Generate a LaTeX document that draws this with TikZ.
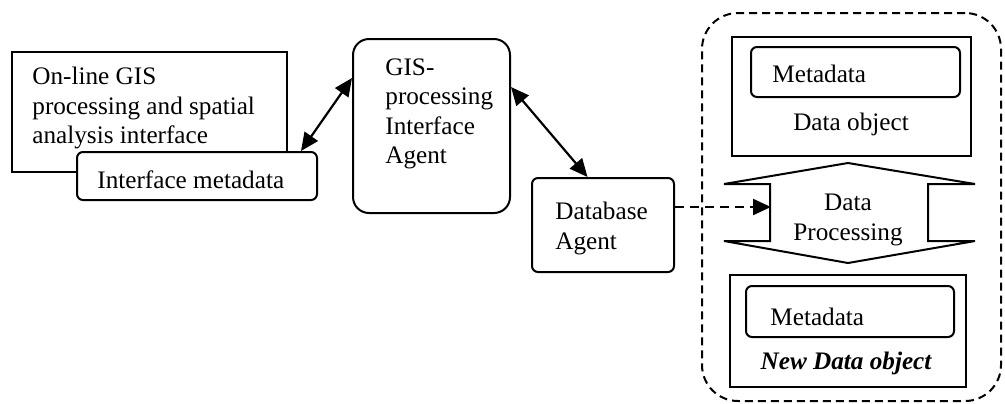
\documentclass[tikz,border=0pt]{standalone}
\usepackage{fontspec}
\setmainfont{Liberation Serif}
\usetikzlibrary{arrows.meta,fit}
\begin{document}
\begin{tikzpicture}[x=0.5pt,y=-0.5pt,
  box/.style={draw, line width=1pt, inner sep=0pt, fill=white},
  rbox/.style={box, rounded corners=3pt},
  agentbox/.style={box, rounded corners=8pt},
  groupbox/.style={draw, line width=1pt, inner sep=0pt, rounded corners=18pt, dash pattern=on 4pt off 2.5pt},
  txt/.style={inner sep=0pt, font=\fontsize{12.6}{14.75}\selectfont, align=left},
  conn/.style={line width=1.1pt, {Triangle[length=9pt,width=8pt]}-{Triangle[length=9pt,width=8pt]}},
  dconn/.style={line width=1.1pt, dash pattern=on 4.5pt off 3pt, -{Triangle[length=9pt,width=8pt]}}]
\useasboundingbox (0,0) rectangle (1005,403);

% left interface box
\node[box, fit={(12,52) (287,172)}] (lbox) {};
\node[txt, anchor=north west] (ltext) at (32,67) {On-line GIS\\processing and spatial\\analysis interface};
\node[rbox, fit={(77,152) (317,200)}] (imeta) {};
\node[txt, anchor=base west] (imetatext) at (97,188) {Interface metadata};

% GIS processing agent
\node[agentbox, fit={(353,39) (510,213)}] (agent) {};
\node[txt, anchor=north west] (agenttext) at (385,58) {GIS-\\processing\\Interface\\Agent};

% database agent
\node[rbox, fit={(532,178) (674,272)}] (db) {};
\node[txt, anchor=north west] (dbtext) at (555,202) {Database\\Agent};

% dashed group
\node[groupbox, fit={(702,13) (1001,401)}] (group) {};

% data object
\node[box, fit={(732,37) (971,156)}] (dobj) {};
\node[rbox, fit={(751,47) (960,97)}] (meta1) {};
\node[txt, anchor=base west] (meta1text) at (772,82) {Metadata};
\node[txt, anchor=base] (dobjtext) at (851,130) {Data object};

% data processing double arrow
\draw[line width=1pt, fill=white] (848,163) -- (724,184) -- (770,184) -- (770,241) -- (724,241) -- (848,263)
  -- (975,241) -- (928,241) -- (928,184) -- (975,184) -- cycle;
\coordinate (dpin) at (771,207);
\node[txt, align=center, anchor=north] (dptext) at (848,194) {Data\\Processing};

% new data object
\node[box, fit={(730,275) (966,387)}] (ndobj) {};
\node[rbox, fit={(746,286) (954,337)}] (meta2) {};
\node[txt, anchor=base west] (meta2text) at (770,325) {Metadata};
\node[txt, anchor=base, font=\fontsize{12.6}{14.75}\selectfont\bfseries\itshape] (ndobjtext) at (846,369) {New Data object};

% connectors
\draw[conn] ([xshift=-8.5pt]imeta.north east) -- ([yshift=24pt]agent.west);
\draw[conn] ([yshift=19.5pt]agent.east) -- ([xshift=-7.75pt]db.north);
\draw[dconn] ([yshift=9pt]db.east) -- (dpin);
\end{tikzpicture}
\end{document}
